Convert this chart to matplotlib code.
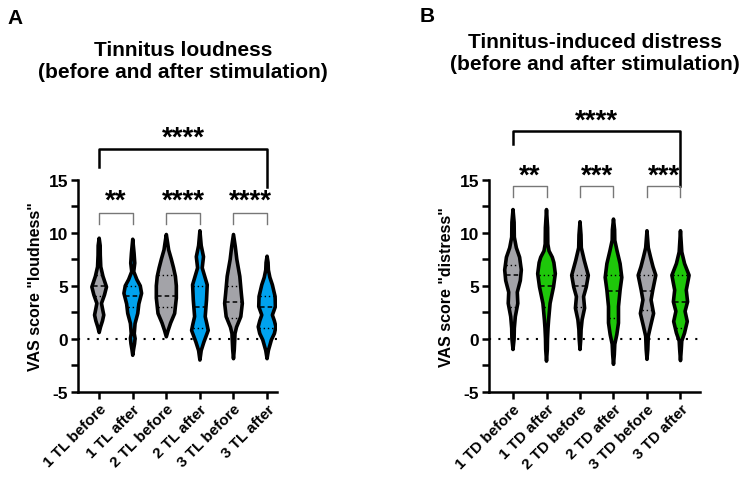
import numpy as np
import matplotlib.pyplot as plt
from matplotlib.ticker import MultipleLocator

plt.rcParams['font.family'] = ['Liberation Sans', 'DejaVu Sans']
plt.rcParams['font.weight'] = 'bold'
plt.rcParams['axes.unicode_minus'] = False

# categories
loud_labels = ["1 TL before", "1 TL after", "2 TL before", "2 TL after", "3 TL before", "3 TL after"]
dist_labels = ["1 TD before", "1 TD after", "2 TD before", "2 TD after", "3 TD before", "3 TD after"]

# violin outlines: score levels and half widths (category units)
loud_levels = [
    [0.6, 1.1, 1.7, 2.25, 2.85, 3.35, 4.15, 4.9, 5.9, 6.8, 7.9, 8.8, 9.5],
    [-1.55, -1.0, -0.45, 0.05, 0.5, 1.45, 2.4, 3.3, 4.3, 5.0, 5.6, 6.35, 7.15, 8.1, 9.4],
    [0.2, 0.8, 1.5, 2.4, 3.85, 5.0, 5.9, 6.7, 7.5, 8.4, 9.05, 9.85],
    [-2.0, -1.1, -0.3, 0.8, 1.4, 2.1, 3.67, 5.1, 6.7, 7.75, 8.8, 10.2],
    [-1.87, -1.0, 0.0, 0.5, 1.1, 2.1, 3.35, 4.3, 5.9, 7.5, 8.7, 9.85],
    [-1.87, -1.1, -0.1, 0.5, 1.14, 1.7, 2.25, 3.05, 4.0, 5.1, 5.8, 6.5, 7.2, 7.8],
]
loud_widths = [
    [0, 0.039, 0.099, 0.137, 0.099, 0.069, 0.158, 0.218, 0.113, 0.048, 0.033, 0.03, 0],
    [0, 0.024, 0.054, 0.069, 0.045, 0.069, 0.149, 0.182, 0.263, 0.224, 0.122, 0.03, 0.06, 0.039, 0],
    [0, 0.054, 0.128, 0.248, 0.298, 0.298, 0.27, 0.215, 0.15, 0.069, 0.039, 0],
    [0, 0.039, 0.119, 0.248, 0.209, 0.158, 0.197, 0.218, 0.069, 0.107, 0.039, 0],
    [0, 0.024, 0.039, 0.045, 0.09, 0.218, 0.263, 0.233, 0.188, 0.099, 0.054, 0],
    [0, 0.039, 0.128, 0.218, 0.263, 0.218, 0.158, 0.248, 0.239, 0.158, 0.084, 0.039, 0.03, 0],
]
loud_median = [5, 4, 4, 3, 3.5, 3]
loud_q1 = [4, 3, 3, 1, 2, 1]
loud_q3 = [6, 5, 6, 5, 5, 4]

dist_levels = [
    [-1.0, 0.0, 1.0, 2.1, 3.35, 4.4, 5.5, 6.5, 7.7, 8.6, 9.6, 11.0, 12.2],
    [-2.1, -1.0, 0.0, 1.0, 1.8, 3.35, 4.9, 6.15, 7.2, 7.7, 8.3, 8.95, 10.5, 12.2],
    [-1.0, 0.0, 0.87, 1.8, 2.9, 3.98, 4.9, 6.0, 7.4, 8.6, 9.8, 11.05],
    [-2.4, -1.5, -0.5, 0.4, 1.5, 3.05, 4.6, 5.8, 7.1, 8.3, 9.3, 10.3, 11.3],
    [-1.93, -1.0, 0.25, 1.2, 2.4, 3.67, 4.6, 6.0, 6.8, 7.7, 8.6, 10.2],
    [-2.05, -1.0, -0.2, 0.56, 1.64, 2.6, 3.5, 4.6, 6.0, 7.1, 8.2, 10.2],
]
dist_widths = [
    [0, 0.033, 0.039, 0.069, 0.143, 0.128, 0.218, 0.248, 0.197, 0.099, 0.039, 0.033, 0],
    [0, 0.024, 0.03, 0.045, 0.063, 0.107, 0.209, 0.263, 0.22, 0.173, 0.075, 0.039, 0.033, 0],
    [0, 0.024, 0.033, 0.063, 0.137, 0.107, 0.188, 0.248, 0.128, 0.039, 0.03, 0],
    [0, 0.024, 0.039, 0.099, 0.149, 0.149, 0.197, 0.248, 0.197, 0.107, 0.039, 0.033, 0],
    [0, 0.024, 0.039, 0.107, 0.197, 0.122, 0.173, 0.263, 0.18, 0.107, 0.039, 0],
    [0, 0.024, 0.039, 0.122, 0.203, 0.137, 0.212, 0.173, 0.257, 0.122, 0.039, 0],
]
dist_median = [6, 5, 5, 4.5, 4.5, 3.5]
dist_q1 = [3, 3, 3, 2, 2.75, 1]
dist_q3 = [7, 6, 6, 6, 6, 6]

GRAY = '#a3a3a8'
BLUE = '#00a2ee'
GREEN = '#1ec80a'


def violin(ax, pos, lev, wid, color, med, q1, q3):
    lev = np.array(lev)
    wid = np.array(wid)
    xs = np.concatenate([pos + wid, (pos - wid)[::-1]])
    ys = np.concatenate([lev, lev[::-1]])
    ax.fill(xs, ys, facecolor=color, edgecolor='black', lw=2.6, joinstyle='round', zorder=3)
    for v, ls, lw in [(med, (0, (3, 2)), 1.1), (q1, (0, (1, 2)), 1.0), (q3, (0, (1, 2)), 1.0)]:
        w = np.interp(v, lev, wid) - 0.02
        ax.plot([pos - w, pos + w], [v, v], color='black', ls=ls, lw=lw, zorder=4)


def panel(ax, labels, levels, widths, medians, q1s, q3s, fill, ylabel, xlim):
    for i in range(len(labels)):
        color = GRAY if i % 2 == 0 else fill
        violin(ax, i, levels[i], widths[i], color, medians[i], q1s[i], q3s[i])
    ax.axhline(0, color='black', ls=(0, (1, 3.5)), lw=1.5, zorder=2)
    ax.set_xlim(*xlim)
    ax.set_ylim(-5, 15)
    ax.yaxis.set_major_locator(MultipleLocator(5))
    ax.yaxis.set_minor_locator(MultipleLocator(2.5))
    ax.set_xticks(range(len(labels)))
    ax.set_xticklabels(labels, rotation=45, ha='right', rotation_mode='anchor', fontsize=11, fontweight='bold')
    for t in ax.get_yticklabels():
        t.set_fontsize(12.5)
        t.set_fontweight('bold')
    ax.tick_params(axis='both', which='major', length=5, width=1.8, pad=2)
    ax.tick_params(axis='y', which='minor', length=5, width=1.8)
    for s in ['top', 'right']:
        ax.spines[s].set_visible(False)
    for s in ['left', 'bottom']:
        ax.spines[s].set_linewidth(1.8)
    ax.set_ylabel(ylabel, fontsize=11.5, fontweight='bold', labelpad=4)


def bracket(ax, x0, x1, y, d0, d1, text, ty, color, lw, fs):
    ax.plot([x0, x0, x1, x1], [y - d0, y, y, y - d1], color=color, lw=lw, clip_on=False, zorder=5)
    ax.text((x0 + x1) / 2, ty, text, ha='center', va='center', fontsize=fs, fontweight='bold', clip_on=False)


fig = plt.figure(figsize=(7.43, 4.85), dpi=100)
axA = fig.add_axes([0.105, 0.19, 0.268, 0.437])
axB = fig.add_axes([0.658, 0.19, 0.284, 0.437])

panel(axA, loud_labels, loud_levels, loud_widths, loud_median, loud_q1, loud_q3, BLUE,
      'VAS score "loudness"', (-0.63, 5.3))
panel(axB, dist_labels, dist_levels, dist_widths, dist_median, dist_q1, dist_q3, GREEN,
      'VAS score "distress"', (-0.72, 5.58))

# significance brackets
bracket(axA, 0, 5, 17.9, 1.7, 3.6, '****', 19.0, 'black', 1.8, 20)
for a, s in [(0, '**'), (2, '****'), (4, '****')]:
    bracket(axA, a, a + 1, 11.9, 1.05, 1.05, s, 13.0, '#777777', 1.0, 20)

bracket(axB, 0, 5, 19.6, 1.2, 5.2, '****', 20.6, 'black', 1.8, 20)
for a, s in [(0, '**'), (2, '***'), (4, '***')]:
    bracket(axB, a, a + 1, 14.4, 1.0, 1.0, s, 15.45, '#777777', 1.0, 20)

fig.text(183 / 743, 1 - 61 / 485, 'Tinnitus loudness\n(before and after stimulation)',
         ha='center', va='center', fontsize=15, fontweight='bold', linespacing=1.2)
fig.text(595 / 743, 1 - 54 / 485, 'Tinnitus-induced distress\n(before and after stimulation)',
         ha='center', va='center', fontsize=15, fontweight='bold', linespacing=1.2)

fig.text(15 / 743, 1 - 18 / 485, 'A', ha='center', va='center', fontsize=15, fontweight='bold')
fig.text(427 / 743, 1 - 17 / 485, 'B', ha='center', va='center', fontsize=15, fontweight='bold')

fig.savefig('out.png', dpi=100)
